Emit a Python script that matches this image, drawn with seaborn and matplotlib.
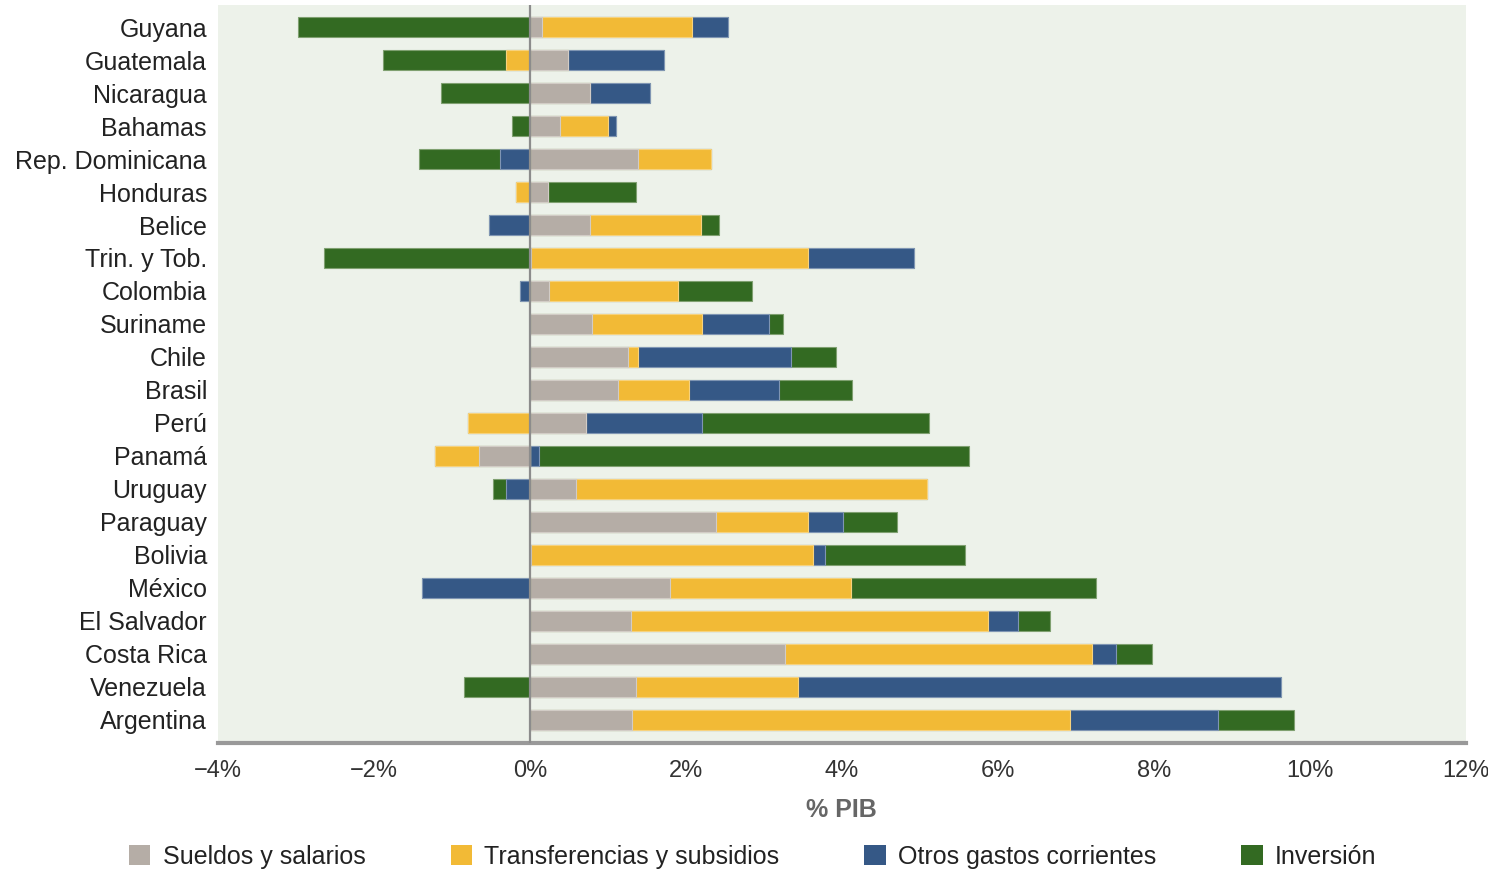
import pandas as pd
import matplotlib
matplotlib.use('Agg')
import matplotlib.pyplot as plt
import seaborn as sns
from matplotlib.patches import Patch
from matplotlib.ticker import FuncFormatter

sns.set_style('white')
plt.rcParams['font.family'] = ['Liberation Sans', 'DejaVu Sans']

# datos (% PIB)
paises = ['Guyana', 'Guatemala', 'Nicaragua', 'Bahamas', 'Rep. Dominicana', 'Honduras',
          'Belice', 'Trin. y Tob.', 'Colombia', 'Suriname', 'Chile', 'Brasil', 'Perú',
          'Panamá', 'Uruguay', 'Paraguay', 'Bolivia', 'México', 'El Salvador',
          'Costa Rica', 'Venezuela', 'Argentina']
sueldos = [0.15, 0.49, 0.77, 0.39, 1.39, 0.23, 0.77, 0.02, 0.25, 0.79, 1.26, 1.13, 0.72,
           -0.65, 0.59, 2.39, 0.02, 1.80, 1.29, 3.27, 1.36, 1.31]
transferencias = [1.93, -0.31, 0.0, 0.61, 0.93, -0.18, 1.42, 3.55, 1.65, 1.42, 0.13, 0.91,
                  -0.80, -0.57, 4.50, 1.17, 3.61, 2.32, 4.58, 3.94, 2.08, 5.62]
otros = [0.46, 1.23, 0.77, 0.10, -0.39, 0.0, -0.52, 1.36, -0.13, 0.85, 1.96, 1.16, 1.49,
         0.12, -0.31, 0.46, 0.15, -1.39, 0.39, 0.31, 6.19, 1.89]
inversion = [-2.97, -1.57, -1.14, -0.23, -1.03, 1.13, 0.23, -2.64, 0.95, 0.18, 0.57, 0.93,
             2.91, 5.51, -0.16, 0.69, 1.80, 3.14, 0.41, 0.46, -0.85, 0.98]

series = ['Sueldos y salarios', 'Transferencias y subsidios', 'Otros gastos corrientes', 'Inversión']
colores = ['#b5ada6', '#f2ba36', '#355886', '#336a22']
bordes = ['#d2ccc6', '#f7d27d', '#7f95b3', '#7fa070']

df = pd.DataFrame({'pais': paises, series[0]: sueldos, series[1]: transferencias,
                   series[2]: otros, series[3]: inversion})

fig = plt.figure(figsize=(14.88, 8.74), dpi=100)
ax = fig.add_axes([0.1465, 0.15, 0.8385, 0.8443])
ax.set_facecolor('#edf2ea')

# barras apiladas: positivos y negativos por separado, de afuera hacia adentro
for signo in (1, -1):
    for k in range(3, -1, -1):
        parte = df[series[:k + 1]]
        if signo > 0:
            acum = parte.clip(lower=0).sum(axis=1)
        else:
            acum = parte.clip(upper=0).sum(axis=1)
        sns.barplot(x=acum.values, y=df['pais'], orient='h', color=colores[k],
                    edgecolor=bordes[k], linewidth=0.8, width=0.6, saturation=1,
                    ax=ax)

ax.axvline(0, color='#8c8c8c', lw=1.6, zorder=5)
ax.set_xlim(-4, 12)
ax.set_ylim(21.7, -0.67)
ax.set_xticks(range(-4, 13, 2))
ax.xaxis.set_major_formatter(FuncFormatter(lambda v, p: f'{v:.0f}%'.replace('-', '\u2212')))
ax.tick_params(axis='x', length=0, labelsize=17, colors='#333333', pad=12)
ax.tick_params(axis='y', length=0, labelsize=18, colors='#222222', pad=8)
ax.set_ylabel('')
ax.set_xlabel('% PIB', fontsize=18, color='#666666', fontweight='bold', labelpad=12)
for s in ['top', 'right', 'left']:
    ax.spines[s].set_visible(False)
ax.spines['bottom'].set_color('#999999')
ax.spines['bottom'].set_linewidth(3)

handles = [Patch(facecolor=c, edgecolor='none') for c in colores]
fig.legend(handles, series, loc='center', bbox_to_anchor=(0.506, 0.02), ncol=4,
           frameon=False, fontsize=18, handlelength=0.85, handleheight=0.9,
           handletextpad=0.5, columnspacing=3.4, labelcolor='#222222')

fig.savefig('out.png', dpi=100)
